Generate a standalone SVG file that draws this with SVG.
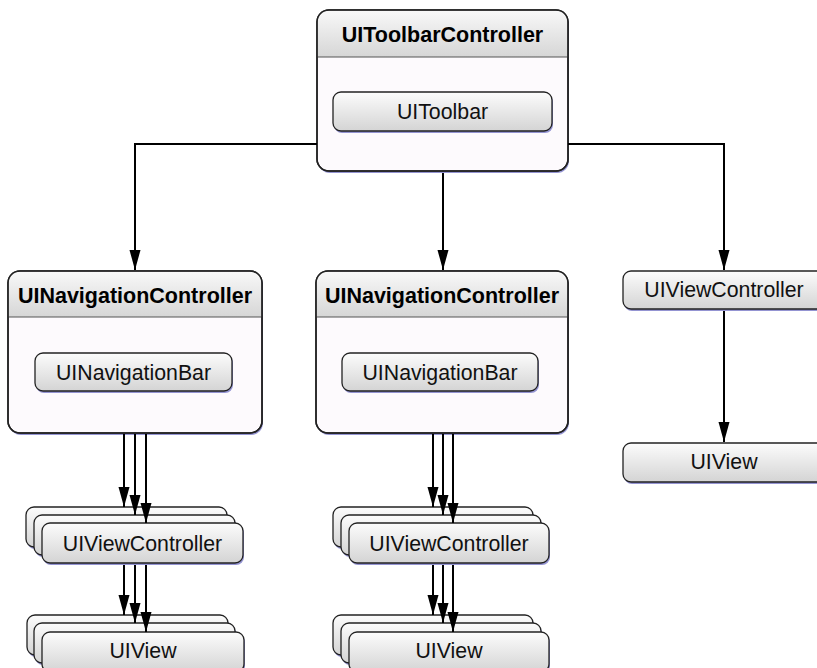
<svg xmlns="http://www.w3.org/2000/svg" width="817" height="668" viewBox="0 0 817 668">
<defs>
<linearGradient id="hdr" x1="0" y1="0" x2="0" y2="1">
<stop offset="0" stop-color="#f8f8f8"/>
<stop offset="1" stop-color="#d6d6d6"/>
</linearGradient>
<linearGradient id="btn" x1="0" y1="0" x2="0" y2="1">
<stop offset="0" stop-color="#fcfcfc"/>
<stop offset="1" stop-color="#d4d4d4"/>
</linearGradient>
<marker id="ah" markerUnits="userSpaceOnUse" markerWidth="20" markerHeight="12" refX="20" refY="6" orient="auto">
<path d="M0,0.5 L20,6 L0,11.5 Z" fill="#000"/>
</marker>
<style>
.shadow{fill:#9494d2}
.body{fill:#fdfafd;stroke:#222;stroke-width:1.5}
.outline{fill:none;stroke:#222;stroke-width:1.5}
.hdr{fill:url(#hdr)}
.sep{stroke:#555;stroke-width:1}
.btn{fill:url(#btn);stroke:#222;stroke-width:1.3}
.t{font-family:"Liberation Sans",Arial,Helvetica,sans-serif;font-size:21.3px;fill:#111;text-anchor:middle}
.tb{font-family:"Liberation Sans",Arial,Helvetica,sans-serif;font-size:21.5px;font-weight:bold;fill:#000;text-anchor:middle}
.c{fill:none;stroke:#000;stroke-width:2;marker-end:url(#ah)}
</style>
</defs>
<rect width="817" height="668" fill="#fff"/>

<g id="toolbarController">
<rect class="shadow" x="318" y="12" width="251" height="161" rx="12"/>
<rect class="body" x="317" y="10" width="251" height="161" rx="12"/>
<path class="hdr" d="M317.75,57 V22 Q317.75,10.75 329,10.75 H556 Q567.25,10.75 567.25,22 V57 Z"/>
<line class="sep" x1="317" y1="57" x2="568" y2="57"/>
<rect class="outline" x="317" y="10" width="251" height="161" rx="12"/>
<text class="tb" x="442.5" y="42">UIToolbarController</text>
<rect class="shadow" x="334" y="94" width="219" height="39" rx="8"/>
<rect class="btn" x="333" y="92" width="219" height="39" rx="8"/>
<text class="t" x="442.5" y="119">UIToolbar</text>
</g>

<g id="navController1">
<rect class="shadow" x="9" y="273" width="254" height="162" rx="12"/>
<rect class="body" x="8" y="271" width="254" height="162" rx="12"/>
<path class="hdr" d="M8.75,317 V283 Q8.75,271.75 20,271.75 H250 Q261.25,271.75 261.25,283 V317 Z"/>
<line class="sep" x1="8" y1="317" x2="262" y2="317"/>
<rect class="outline" x="8" y="271" width="254" height="162" rx="12"/>
<text class="tb" x="135" y="303">UINavigationController</text>
<rect class="shadow" x="36" y="355" width="197" height="38" rx="8"/>
<rect class="btn" x="35" y="353" width="197" height="38" rx="8"/>
<text class="t" x="133.5" y="379.5">UINavigationBar</text>
</g>

<g id="navController2">
<rect class="shadow" x="317" y="273" width="252" height="162" rx="12"/>
<rect class="body" x="316" y="271" width="252" height="162" rx="12"/>
<path class="hdr" d="M316.75,317 V283 Q316.75,271.75 328,271.75 H556 Q567.25,271.75 567.25,283 V317 Z"/>
<line class="sep" x1="316" y1="317" x2="568" y2="317"/>
<rect class="outline" x="316" y="271" width="252" height="162" rx="12"/>
<text class="tb" x="442" y="303">UINavigationController</text>
<rect class="shadow" x="343" y="355" width="196" height="38" rx="8"/>
<rect class="btn" x="342" y="353" width="196" height="38" rx="8"/>
<text class="t" x="440" y="379.5">UINavigationBar</text>
</g>

<g id="viewControllers1">
<rect class="shadow" x="27" y="509" width="201" height="40" rx="8"/>
<rect class="btn" x="26" y="507" width="201" height="40" rx="8"/>
<rect class="shadow" x="35" y="517" width="201" height="40" rx="8"/>
<rect class="btn" x="34" y="515" width="201" height="40" rx="8"/>
<rect class="shadow" x="43" y="525" width="201" height="40" rx="8"/>
<rect class="btn" x="42" y="523" width="201" height="40" rx="8"/>
<text class="t" x="142.5" y="550.5">UIViewController</text>
</g>

<g id="views1">
<rect class="shadow" x="28" y="617" width="201" height="40" rx="8"/>
<rect class="btn" x="27" y="615" width="201" height="40" rx="8"/>
<rect class="shadow" x="35" y="625" width="201" height="40" rx="8"/>
<rect class="btn" x="34" y="623" width="201" height="40" rx="8"/>
<rect class="shadow" x="43" y="634" width="202" height="40" rx="8"/>
<rect class="btn" x="42" y="632" width="202" height="40" rx="8"/>
<text class="t" x="143" y="657.5">UIView</text>
</g>

<g id="viewControllers2">
<rect class="shadow" x="334" y="509" width="200" height="40" rx="8"/>
<rect class="btn" x="333" y="507" width="200" height="40" rx="8"/>
<rect class="shadow" x="342" y="517" width="200" height="40" rx="8"/>
<rect class="btn" x="341" y="515" width="200" height="40" rx="8"/>
<rect class="shadow" x="350" y="525" width="200" height="40" rx="8"/>
<rect class="btn" x="349" y="523" width="200" height="40" rx="8"/>
<text class="t" x="449" y="550.5">UIViewController</text>
</g>

<g id="views2">
<rect class="shadow" x="334" y="617" width="200" height="40" rx="8"/>
<rect class="btn" x="333" y="615" width="200" height="40" rx="8"/>
<rect class="shadow" x="342" y="625" width="200" height="40" rx="8"/>
<rect class="btn" x="341" y="623" width="200" height="40" rx="8"/>
<rect class="shadow" x="350" y="634" width="200" height="40" rx="8"/>
<rect class="btn" x="349" y="632" width="200" height="40" rx="8"/>
<text class="t" x="449" y="657.5">UIView</text>
</g>

<g id="viewController3">
<rect class="shadow" x="624" y="273" width="202" height="38" rx="8"/>
<rect class="btn" x="623" y="271" width="202" height="38" rx="8"/>
<text class="t" x="724" y="296.5">UIViewController</text>
</g>

<g id="view3">
<rect class="shadow" x="624" y="445" width="202" height="39" rx="8"/>
<rect class="btn" x="623" y="443" width="202" height="39" rx="8"/>
<text class="t" x="724" y="469">UIView</text>
</g>

<g id="connectors">
<path class="c" d="M317,144 H135 V270"/>
<path class="c" d="M443,173 V270"/>
<path class="c" d="M568,144 H724 V270"/>
<path class="c" d="M724,311 V442"/>
<path class="c" d="M124,434 V507"/>
<path class="c" d="M135,434 V515"/>
<path class="c" d="M146,434 V523"/>
<path class="c" d="M124,565 V615"/>
<path class="c" d="M135,565 V623"/>
<path class="c" d="M146,565 V632"/>
<path class="c" d="M433,434 V507"/>
<path class="c" d="M443,434 V515"/>
<path class="c" d="M453,434 V523"/>
<path class="c" d="M433,565 V615"/>
<path class="c" d="M443,565 V623"/>
<path class="c" d="M453,565 V632"/>
</g>
</svg>
